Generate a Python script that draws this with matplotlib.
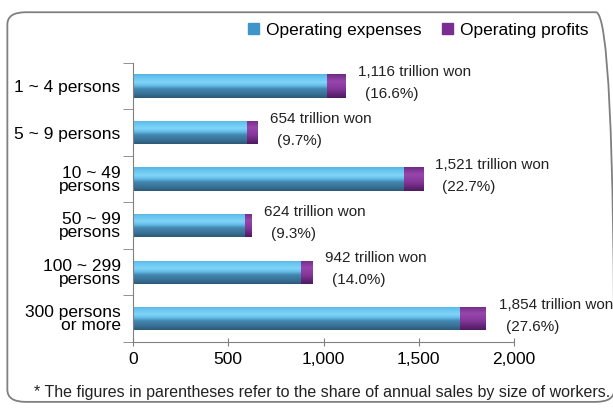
import numpy as np
import matplotlib
matplotlib.use('Agg')
import matplotlib.pyplot as plt
from matplotlib.patches import FancyBboxPatch
from matplotlib.colors import LinearSegmentedColormap

plt.rcParams['font.family'] = ['Liberation Sans', 'DejaVu Sans']

categories = ['1 ~ 4 persons', '5 ~ 9 persons', '10 ~ 49\npersons', '50 ~ 99\npersons',
              '100 ~ 299\npersons', '300 persons\nor more']
expenses = [1020, 598, 1421, 589, 882, 1718]
profits = [96, 56, 100, 35, 60, 136]
totals = ['1,116', '654', '1,521', '624', '942', '1,854']
shares = ['16.6%', '9.7%', '22.7%', '9.3%', '14.0%', '27.6%']
xticks = [0, 500, 1000, 1500, 2000]
xticklabels = ['0', '500', '1,000', '1,500', '2,000']

# top -> bottom of each bar
blue_cmap = LinearSegmentedColormap.from_list('blue', [
    (0.0, '#58b4e2'), (0.12, '#66c4f0'), (0.35, '#80d4f8'), (0.5, '#5fb8e4'),
    (0.62, '#4387b0'), (0.85, '#386f93'), (1.0, '#2c5a78')])
purple_cmap = LinearSegmentedColormap.from_list('purple', [
    (0.0, '#6e2c84'), (0.3, '#9846ac'), (0.6, '#87389b'), (1.0, '#4e1a60')])

fig = plt.figure(figsize=(6.13, 4.08), dpi=100)
ax = fig.add_axes([0.217, 0.162, 0.6215, 0.684])

y = np.arange(len(categories))
bh = 0.5
b1 = ax.barh(y, expenses, height=bh, color='#5bbbe6', label='Operating expenses')
b2 = ax.barh(y, profits, left=expenses, height=bh, color='#7a2e91', label='Operating profits')

grad = np.linspace(0, 1, 64).reshape(-1, 1)
for bars, cmap in ((b1, blue_cmap), (b2, purple_cmap)):
    for p in bars:
        x0, y0 = p.get_x(), p.get_y()
        w, h = p.get_width(), p.get_height()
        im = ax.imshow(grad, cmap=cmap, aspect='auto', origin='upper',
                       extent=[x0, x0 + w, y0 + h, y0], zorder=2)
        im.set_clip_path(p)
        p.set_alpha(0)

for i in range(len(categories)):
    end = expenses[i] + profits[i]
    ax.annotate(totals[i] + ' trillion won', (end, y[i]), xytext=(9, 10),
                textcoords='offset points', ha='left', va='center', fontsize=11, color='#222222')
    ax.annotate('(' + shares[i] + ')', (end, y[i]), xytext=(14, -6),
                textcoords='offset points', ha='left', va='center', fontsize=11, color='#222222')

ax.set_xlim(0, 2000)
ax.set_ylim(len(categories) - 0.5, -0.5)
ax.set_xticks(xticks)
ax.set_xticklabels(xticklabels, fontsize=12.5)
ax.set_yticks(y)
ax.set_yticklabels(categories, fontsize=12.5, linespacing=0.85)
ax.set_yticks(np.arange(-0.5, len(categories)), minor=True)
ax.tick_params(axis='y', which='major', length=0, pad=9)
ax.tick_params(axis='y', which='minor', length=7, color='#808080', direction='out')
ax.tick_params(axis='x', length=6, color='#808080', direction='inout', pad=4)
for s in ('top', 'right'):
    ax.spines[s].set_visible(False)
for s in ('left', 'bottom'):
    ax.spines[s].set_color('#808080')

h1 = plt.Rectangle((0, 0), 1, 1, color='#3f95c8')
h2 = plt.Rectangle((0, 0), 1, 1, color='#7a2e91')
fig.legend([h1, h2], ['Operating expenses', 'Operating profits'], loc='center right',
           bbox_to_anchor=(0.985, 0.925), ncol=2, frameon=False, fontsize=12.5,
           handlelength=0.6, handleheight=0.6, handletextpad=0.4, columnspacing=1.2)

box = FancyBboxPatch((0.012, 0.015), 0.99, 0.955, boxstyle='round,pad=0,rounding_size=0.03',
                     transform=fig.transFigure, fill=False, edgecolor='#7f7f7f', linewidth=1.3)
fig.patches.append(box)

fig.text(0.995, 0.037, '* The figures in parentheses refer to the share of annual sales by size of workers.',
         ha='right', va='center', fontsize=11.5, color='#222222')

fig.savefig('out.png', dpi=100)
